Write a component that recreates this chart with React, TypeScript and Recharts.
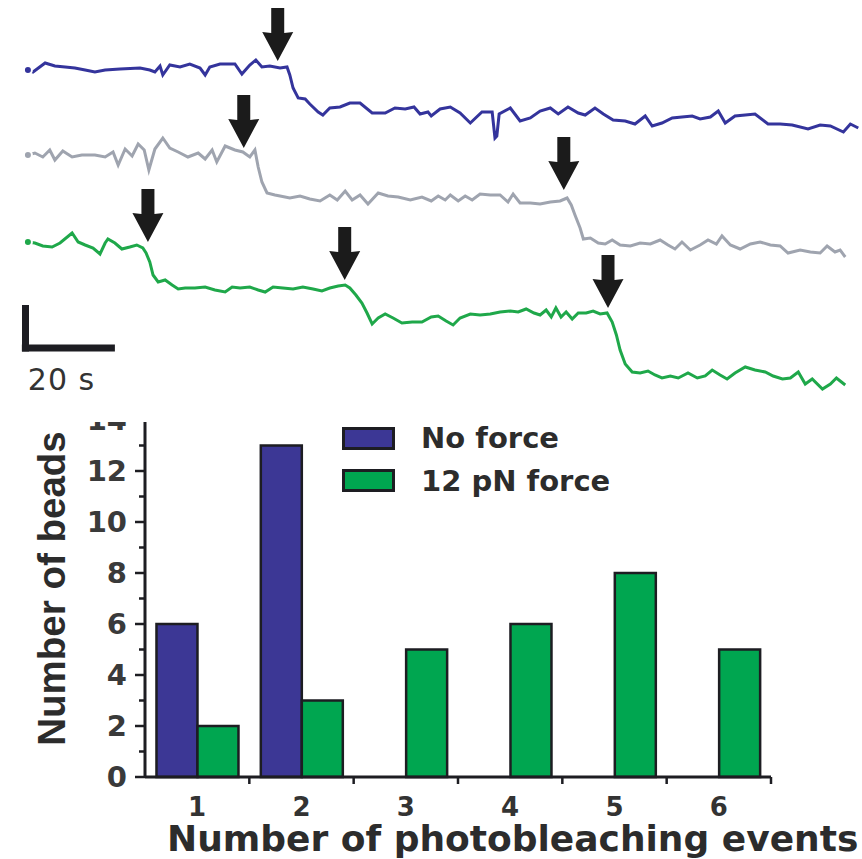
// Photobleaching steps figure: three intensity traces with step arrows + histogram of bleaching events
import {
  Bar,
  BarChart,
  ComposedChart,
  Label,
  Legend,
  Line,
  ReferenceLine,
  Scatter,
  XAxis,
  YAxis,
} from 'recharts';

// traces: [time (s), intensity (a.u.)]
const blueTrace: [number, number][] = [
  [0, 330], [1.1, 328], [3.7, 337], [5.8, 334], [8.0, 333], [10.1, 332], [12.3, 330], [14.4, 328],
  [16.6, 330], [19.8, 331], [24.1, 332], [26.2, 330], [27.3, 328], [28.4, 334], [29.0, 325], [30.5, 335],
  [32.7, 333], [34.8, 336], [37.0, 332], [38.1, 325], [39.1, 333], [41.3, 336], [44.5, 336], [46.0, 326],
  [47.7, 335], [49.0, 340], [50.3, 333], [52.0, 334], [54.2, 332], [55.7, 333], [56.3, 325], [57.0, 312],
  [58.1, 302], [59.6, 301], [60.6, 296], [62.4, 288], [63.4, 285], [64.9, 292], [67.1, 293], [69.2, 297],
  [71.4, 297], [74.0, 287], [76.8, 287], [78.9, 292], [81.1, 291], [83.0, 293], [84.3, 286], [86.0, 288],
  [86.7, 284], [88.6, 291], [90.8, 293], [92.9, 287], [95.1, 277], [97.6, 288], [99.8, 288], [100.4, 262],
  [100.8, 264], [101.3, 286], [103.7, 292], [105.8, 279], [108.0, 282], [110.1, 289], [112.3, 292],
  [114.0, 286], [116.1, 293], [118.3, 287], [119.8, 285], [121.9, 292], [123.7, 286], [125.8, 280],
  [128.4, 279], [130.5, 276], [132.7, 284], [134.2, 274], [136.3, 277], [138.5, 282], [140.6, 283],
  [142.8, 284], [144.5, 281], [146.7, 283], [148.4, 289], [149.9, 277], [152.0, 284], [154.2, 285],
  [156.3, 286], [159.1, 276], [161.7, 276], [164.3, 275], [167.7, 271], [170.3, 275], [172.5, 274],
  [175.3, 268], [176.8, 276], [178.5, 272],
];

const grayTrace: [number, number][] = [
  [0, 245], [1.5, 247], [3.2, 243], [4.7, 250], [5.8, 240], [7.5, 249], [9.5, 243], [11.6, 245],
  [14.4, 245], [16.6, 243], [18.3, 248], [19.4, 235], [20.9, 251], [22.4, 244], [23.7, 256], [25.0, 250],
  [26.0, 230], [27.3, 251], [29.0, 262], [30.5, 252], [32.3, 248], [34.4, 243], [36.6, 247], [38.1, 241],
  [39.6, 250], [40.6, 238], [42.4, 254], [44.5, 250], [46.2, 248], [47.7, 243], [48.8, 250], [49.5, 233],
  [50.3, 218], [51.4, 207], [53.1, 205], [54.2, 204], [56.3, 202], [58.5, 204], [60.6, 201], [62.8, 199],
  [64.9, 205], [66.5, 200], [68.2, 209], [69.7, 200], [71.4, 205], [73.1, 196], [75.3, 207], [77.4, 204],
  [79.6, 203], [82.2, 200], [84.7, 203], [86.7, 199], [88.2, 204], [89.7, 200], [90.8, 205], [92.5, 199],
  [94.0, 204], [95.5, 200], [97.2, 206], [99.4, 205], [101.5, 205], [103.2, 198], [104.3, 206],
  [105.8, 197], [108.0, 197], [110.1, 196], [112.3, 198], [114.4, 199], [115.9, 202], [116.8, 195],
  [117.6, 185], [118.7, 172], [119.4, 161], [120.9, 162], [122.6, 157], [124.1, 156], [125.6, 160],
  [127.3, 155], [129.5, 154], [131.6, 157], [133.8, 156], [135.9, 160], [137.6, 155], [139.1, 151],
  [140.6, 158], [142.4, 150], [144.5, 155], [146.2, 160], [148.0, 156], [149.2, 164], [151.0, 155],
  [153.1, 151], [155.3, 156], [157.4, 158], [159.6, 155], [161.7, 154], [163.4, 147], [166.0, 150],
  [168.2, 148], [170.3, 147], [171.8, 154], [173.5, 148], [174.6, 150], [175.7, 143],
];

const greenTrace: [number, number][] = [
  [0, 158], [1.5, 157], [3.2, 154], [5.2, 153], [6.9, 157], [9.5, 167], [10.8, 158], [12.3, 155],
  [14.0, 152], [15.5, 146], [16.6, 157], [17.2, 161], [18.7, 157], [20.2, 151], [21.9, 153], [23.4, 155],
  [24.7, 152], [25.4, 147], [26.2, 138], [26.9, 125], [28.0, 118], [29.5, 120], [31.0, 115], [32.3, 111],
  [33.8, 112], [35.9, 112], [38.1, 113], [40.2, 110], [42.4, 108], [43.9, 113], [45.6, 112], [47.7, 113],
  [49.5, 110], [51.0, 108], [52.7, 113], [54.8, 112], [57.0, 111], [59.1, 113], [61.3, 111], [63.2, 109],
  [64.9, 112], [66.7, 114], [68.2, 115], [69.2, 112], [70.5, 105], [71.8, 97], [72.9, 87], [74.0, 76],
  [75.3, 82], [76.8, 86], [78.5, 82], [80.4, 77], [82.6, 78], [84.7, 78], [86.7, 83], [88.2, 84],
  [89.9, 79], [91.4, 75], [92.9, 82], [95.1, 86], [97.2, 85], [99.4, 86], [101.5, 88], [103.7, 89],
  [105.4, 88], [107.1, 91], [108.8, 87], [110.1, 85], [111.4, 90], [112.5, 83], [113.5, 92], [114.6, 83],
  [115.7, 88], [117.0, 81], [118.3, 87], [120.0, 87], [121.5, 89], [123.0, 86], [124.5, 87], [125.6, 78],
  [126.5, 65], [127.3, 50], [128.4, 36], [129.9, 28], [131.6, 27], [133.3, 29], [134.8, 25], [136.3, 22],
  [138.1, 24], [139.8, 22], [141.9, 27], [143.9, 22], [145.6, 24], [147.1, 30], [148.8, 25], [150.3, 21],
  [152.0, 27], [154.2, 33], [156.3, 30], [158.5, 28], [160.2, 24], [162.2, 21], [163.9, 22], [165.6, 28],
  [167.1, 16], [168.6, 21], [170.8, 11], [172.5, 16], [173.8, 22], [175.7, 15],
];

// bleaching steps marked by arrows (arrow tip at [time, intensity])
const stepArrows: [number, number][] = [
  [53.7, 339], [46.4, 252], [115.2, 210], [25.8, 158], [68.1, 120], [124.7, 92],
];

// scale bar: 20 s horizontal, intensity bar vertical
const scaleSeconds = 20;
const scaleStart = -1.3;
const scaleLevel = 52;
const scaleTop = 95;

// histogram
const events = ['1', '2', '3', '4', '5', '6'];
const noForce = [6, 13, 0, 0, 0, 0];
const force12pN = [2, 3, 5, 6, 8, 5];
const beadTicks = [0, 1, 2, 3, 4, 5, 6, 7, 8, 9, 10, 11, 12, 13, 14];
const seriesOrder = ['No force', '12 pN force'];

const BLUE = '#3c3795';
const GREEN = '#00a650';
const INK = '#1d1d22';
const TEXT = '#2c2c2c';

// one table keyed by time, one column per trace
function buildTraceRows() {
  const rows = new Map<number, any>();
  const add = (key: string, trace: [number, number][]) => {
    trace.forEach(([t, v]) => {
      const row = rows.get(t) || { t };
      row[key] = v;
      rows.set(t, row);
    });
  };
  add('blue', blueTrace);
  add('gray', grayTrace);
  add('green', greenTrace);
  return Array.from(rows.values()).sort((a, b) => a.t - b.t);
}

function StepArrow(props: any) {
  const { cx, cy } = props;
  const shape = [
    [-6.5, -53], [6.5, -53], [6.5, -28], [15.5, -29], [0, 0], [-15.5, -29], [-6.5, -28],
  ];
  const pts = shape.map(([dx, dy]) => `${cx + dx},${cy + dy}`).join(' ');
  return <polygon points={pts} fill="#1b1b1b" />;
}

function renderScaleLabel(props: any) {
  const vb = props.viewBox || {};
  return (
    <text x={vb.x + 6} y={vb.y + 42} fontFamily="DejaVu Sans" fontSize={30} fill="#333" letterSpacing={1}>
      20 s
    </text>
  );
}

function BeadTick(props: any) {
  const { x, y, payload } = props;
  const axisX = x + 18;
  const major = payload.value % 2 === 0;
  return (
    <g>
      <line x1={axisX - (major ? 10 : 6)} x2={axisX} y1={y} y2={y} stroke={INK} strokeWidth={2.5} />
      {major && (
        <text
          x={x}
          y={y}
          dy="0.36em"
          textAnchor="end"
          fontFamily="DejaVu Sans"
          fontWeight="bold"
          fontSize={29}
          fill="#3a3a3a"
        >
          {payload.value}
        </text>
      )}
    </g>
  );
}

function EventTick(props: any) {
  const { x, y, payload } = props;
  const axisY = y - 8;
  const edge = x + (payload.offset ?? 52);
  return (
    <g>
      <line x1={edge} x2={edge} y1={axisY} y2={axisY + 7} stroke={INK} strokeWidth={2.5} />
      <text
        x={x}
        y={axisY + 39}
        textAnchor="middle"
        fontFamily="DejaVu Sans"
        fontWeight="bold"
        fontSize={26}
        fill="#333"
      >
        {payload.value}
      </text>
    </g>
  );
}

function renderXTitle(props: any) {
  const vb = props.viewBox;
  return (
    <text x={vb.x + 22} y={vb.y + 74} fontFamily="DejaVu Sans" fontWeight="bold" fontSize={36} fill={TEXT}>
      Number of photobleaching events
    </text>
  );
}

function renderYTitle(props: any) {
  const vb = props.viewBox;
  const cx = vb.x - 35;
  const cy = vb.y + vb.height / 2 - 10;
  return (
    <text
      x={cx}
      y={cy}
      transform={`rotate(-90 ${cx} ${cy})`}
      textAnchor="middle"
      fontFamily="Liberation Sans"
      fontWeight="bold"
      fontSize={38.5}
      fill={TEXT}
    >
      Number of beads
    </text>
  );
}

function renderLegend(props: any) {
  const items = [...(props.payload || [])].sort(
    (a: any, b: any) => seriesOrder.indexOf(a.value) - seriesOrder.indexOf(b.value),
  );
  return (
    <div>
      {items.map((entry: any) => (
        <div key={entry.value} style={{ display: 'flex', alignItems: 'center', height: 42.5 }}>
          <span
            style={{
              display: 'inline-block',
              width: 47,
              height: 17,
              background: entry.color,
              border: `3px solid ${INK}`,
              marginRight: 26,
            }}
          />
          <span
            style={{
              fontFamily: 'DejaVu Sans',
              fontWeight: 'bold',
              fontSize: 29,
              color: TEXT,
              whiteSpace: 'nowrap',
            }}
          >
            {entry.value}
          </span>
        </div>
      ))}
    </div>
  );
}

export default function App() {
  const traceRows = buildTraceRows();
  const arrowPoints = stepArrows.map(([t, v]) => ({ t, v }));
  const beadRows = events.map((e, i) => ({ events: e, noForce: noForce[i], force: force12pN[i] }));

  return (
    <div style={{ position: 'absolute', left: 0, top: 0, width: 862, height: 859, background: '#fff' }}>
      <div style={{ position: 'absolute', left: 0, top: 0 }}>
        <ComposedChart
          width={862}
          height={400}
          data={traceRows}
          margin={{ top: 0, right: 0, bottom: 0, left: 0 }}
        >
          <XAxis type="number" dataKey="t" domain={[-6, 179.3]} hide allowDataOverflow />
          <YAxis type="number" domain={[0, 400]} hide allowDataOverflow />
          <Line
            dataKey="blue"
            type="linear"
            stroke="#34349c"
            strokeWidth={3}
            dot={false}
            connectNulls
            isAnimationActive={false}
          />
          <Line
            dataKey="gray"
            type="linear"
            stroke="#9fa4af"
            strokeWidth={3}
            dot={false}
            connectNulls
            isAnimationActive={false}
          />
          <Line
            dataKey="green"
            type="linear"
            stroke="#1fa84a"
            strokeWidth={3}
            dot={false}
            connectNulls
            isAnimationActive={false}
          />
          <Scatter
            data={arrowPoints}
            dataKey="v"
            shape={(p: any) => <StepArrow {...p} />}
            isAnimationActive={false}
          />
          <ReferenceLine
            segment={[
              { x: scaleStart, y: scaleLevel },
              { x: scaleStart + scaleSeconds, y: scaleLevel },
            ]}
            stroke={INK}
            strokeWidth={7}
            ifOverflow="visible"
            label={renderScaleLabel}
          />
          <ReferenceLine
            segment={[
              { x: scaleStart + 0.78, y: scaleTop },
              { x: scaleStart + 0.78, y: scaleLevel - 3.5 },
            ]}
            stroke={INK}
            strokeWidth={7}
            ifOverflow="visible"
          />
        </ComposedChart>
      </div>

      <div style={{ position: 'absolute', left: 0, top: 422, width: 862, height: 437, overflow: 'hidden' }}>
        <div style={{ position: 'relative', top: -22 }}>
          <BarChart
            width={862}
            height={459}
            data={beadRows}
            margin={{ top: 20, right: 91, bottom: 2, left: 100 }}
            barCategoryGap="11%"
            barGap={0}
          >
            <XAxis
              dataKey="events"
              height={80}
              interval={0}
              tickLine={false}
              tickSize={6}
              tickMargin={2}
              axisLine={{ stroke: INK, strokeWidth: 3 }}
              tick={<EventTick />}
            >
              <Label content={renderXTitle} />
            </XAxis>
            <YAxis
              domain={[0, 14]}
              ticks={beadTicks}
              interval={0}
              width={45}
              tickLine={false}
              tickSize={10}
              tickMargin={8}
              axisLine={{ stroke: INK, strokeWidth: 3 }}
              tick={<BeadTick />}
            >
              <Label content={renderYTitle} />
            </YAxis>
            <Legend
              layout="vertical"
              align="center"
              verticalAlign="middle"
              wrapperStyle={{ left: 342, top: 17, width: 320 }}
              content={renderLegend}
            />
            <Bar
              dataKey="noForce"
              name="No force"
              fill={BLUE}
              stroke={INK}
              strokeWidth={2.5}
              isAnimationActive={false}
            />
            <Bar
              dataKey="force"
              name="12 pN force"
              fill={GREEN}
              stroke={INK}
              strokeWidth={2.5}
              isAnimationActive={false}
            />
          </BarChart>
        </div>
      </div>
    </div>
  );
}
